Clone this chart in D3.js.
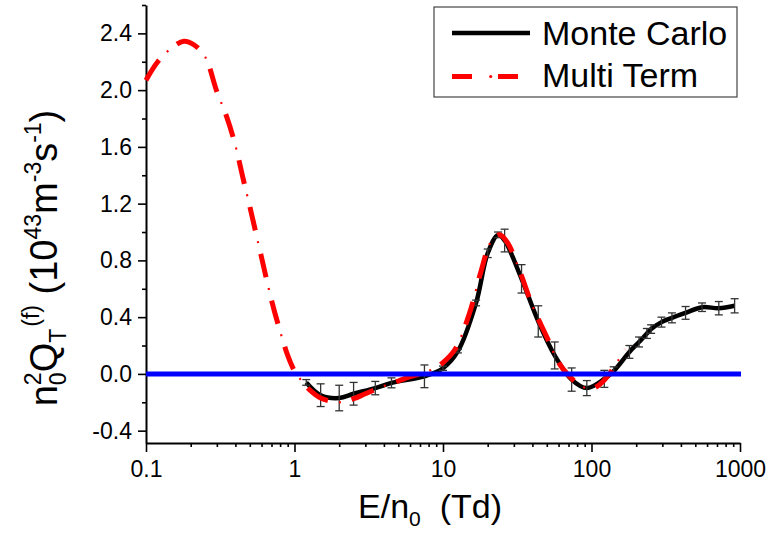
<!DOCTYPE html>
<html>
<head>
<meta charset="utf-8">
<script src="https://cdn.jsdelivr.net/npm/d3@7"></script>
<style>
  body { margin: 0; background: #fff; }
  svg { display: block; }
  text { font-family: "Liberation Sans", Arial, sans-serif; fill: #000; }
</style>
</head>
<body>
<svg width="769" height="540"></svg>
<script>
// Monte Carlo points (E/n0 in Td, value, error)
const mcX = [1.2, 1.5, 2, 2.5, 3.5, 4.5, 7.5, 10, 12.6, 16.7, 20, 23.5, 26, 33.8, 43.8, 56.5, 73.5, 93, 122, 141, 180, 209, 236, 252, 296, 348, 430, 555, 720, 920];
const mcY = [-0.06, -0.15, -0.17, -0.14, -0.10, -0.063, -0.017, 0.04, 0.16, 0.5, 0.85, 0.98, 0.94, 0.67, 0.37, 0.13, -0.04, -0.10, -0.035, 0.02, 0.155, 0.225, 0.285, 0.316, 0.365, 0.395, 0.43, 0.47, 0.463, 0.48];
const mcErr = [0.02, 0.08, 0.09, 0.08, 0.047, 0.035, 0.08, 0.015, 0.012, 0.02, 0.03, 0.02, 0.08, 0.1, 0.11, 0.095, 0.082, 0.053, 0.06, 0.03, 0.045, 0.035, 0.035, 0.03, 0.035, 0.035, 0.045, 0.03, 0.047, 0.05];

// Multi term curve
const mtX = [0.1, 0.12, 0.15, 0.18, 0.21, 0.25, 0.3, 0.35, 0.4, 0.45, 0.5, 0.6, 0.7, 0.8, 0.9, 1.0, 1.1, 1.2, 1.5, 2, 2.5, 3, 4, 5, 6, 7, 8, 9, 10, 12, 15, 18, 21, 24, 27, 33, 40, 50, 60, 70, 85, 100, 115, 130, 150, 170];
const mtY = [2.07, 2.2, 2.30, 2.345, 2.32, 2.235, 1.99, 1.81, 1.61, 1.38, 1.18, 0.82, 0.52, 0.30, 0.13, 0.02, -0.04, -0.09, -0.17, -0.20, -0.175, -0.14, -0.085, -0.05, -0.02, 0.0, 0.02, 0.045, 0.08, 0.17, 0.42, 0.72, 0.93, 0.98, 0.93, 0.72, 0.48, 0.26, 0.08, -0.01, -0.085, -0.105, -0.07, -0.01, 0.09, 0.17];

const xMajor = [0.1, 1, 10, 100, 1000];
const xTickLabels = ['0.1', '1', '10', '100', '1000'];
const yMajor = [-0.4, 0.0, 0.4, 0.8, 1.2, 1.6, 2.0, 2.4];
const yTickLabels = ['-0.4', '0.0', '0.4', '0.8', '1.2', '1.6', '2.0', '2.4'];
const seriesNames = ['Monte Carlo', 'Multi Term'];

const svg = d3.select('svg');

const x = d3.scaleLog().domain([0.1, 1000]).range([146, 740]);
const y = d3.scaleLinear().domain([-0.487, 2.6]).range([443, 5]);

// minor ticks
const xMinor = [];
[0.1, 1, 10, 100].forEach(d => { for (let k = 2; k <= 9; k++) xMinor.push(d * k); });
const yMinor = [-0.2, 0.2, 0.6, 1.0, 1.4, 1.8, 2.2, 2.6];

svg.append('g').attr('transform', `translate(0,${y.range()[0]})`)
  .call(d3.axisBottom(x).tickValues(xMajor).tickFormat((d, i) => xTickLabels[i])
    .tickSize(9).tickSizeOuter(0).tickPadding(9));
svg.append('g').attr('transform', `translate(0,${y.range()[0]})`)
  .call(d3.axisBottom(x).tickValues(xMinor).tickFormat('').tickSize(4).tickSizeOuter(0))
  .call(g => g.select('.domain').remove());

svg.append('g').attr('transform', `translate(${x.range()[0]},0)`)
  .call(d3.axisLeft(y).tickValues(yMajor).tickFormat((d, i) => yTickLabels[i])
    .tickSize(8).tickSizeOuter(0).tickPadding(6));
svg.append('g').attr('transform', `translate(${x.range()[0]},0)`)
  .call(d3.axisLeft(y).tickValues(yMinor).tickFormat('').tickSize(4).tickSizeOuter(0))
  .call(g => g.select('.domain').remove());

svg.selectAll('.domain').attr('stroke', '#000').attr('stroke-width', 2);
svg.selectAll('.tick line').attr('stroke', '#000').attr('stroke-width', 1.6);
svg.selectAll('.tick text').style('font-size', '23px').style('font-family', '"Liberation Sans", Arial, sans-serif').attr('fill', '#000');

// Monte Carlo line
const line = d3.line().curve(d3.curveCatmullRom.alpha(0.5))
  .x(d => x(d[0])).y(d => y(d[1]));
const mcData = mcX.map((d, i) => [d, mcY[i], mcErr[i]]);
const mtData = mtX.map((d, i) => [d, mtY[i]]);

svg.append('path').datum(mcData).attr('d', line)
  .attr('fill', 'none').attr('stroke', '#000').attr('stroke-width', 4.5);

// error bars
const eb = svg.append('g').attr('stroke', '#333').attr('stroke-width', 1.3);
eb.selectAll('line.v').data(mcData).enter().append('line')
  .attr('x1', d => x(d[0])).attr('x2', d => x(d[0]))
  .attr('y1', d => y(d[1] - d[2])).attr('y2', d => y(d[1] + d[2]));
eb.selectAll('line.t').data(mcData).enter().append('line')
  .attr('x1', d => x(d[0]) - 4).attr('x2', d => x(d[0]) + 4)
  .attr('y1', d => y(d[1] + d[2])).attr('y2', d => y(d[1] + d[2]));
eb.selectAll('line.b').data(mcData).enter().append('line')
  .attr('x1', d => x(d[0]) - 4).attr('x2', d => x(d[0]) + 4)
  .attr('y1', d => y(d[1] - d[2])).attr('y2', d => y(d[1] - d[2]));

// Multi term dash-dot line (dashes + dots)
svg.append('path').datum(mtData).attr('d', line)
  .attr('fill', 'none').attr('stroke', '#ff0000').attr('stroke-width', 5)
  .attr('stroke-dasharray', '24,24');
svg.append('path').datum(mtData).attr('d', line)
  .attr('fill', 'none').attr('stroke', '#ff0000').attr('stroke-width', 2.2)
  .attr('stroke-dasharray', '0,35,2,11');

// zero line
svg.append('line')
  .attr('x1', x(0.1)).attr('x2', x(1000) + 1)
  .attr('y1', y(0)).attr('y2', y(0))
  .attr('stroke', '#0000ff').attr('stroke-width', 5);

// legend
const lg = svg.append('g');
lg.append('rect').attr('x', 434).attr('y', 7).attr('width', 303).attr('height', 90)
  .attr('fill', '#fff').attr('stroke', '#444').attr('stroke-width', 1.2);
lg.append('line').attr('x1', 452).attr('x2', 530).attr('y1', 33).attr('y2', 33)
  .attr('stroke', '#000').attr('stroke-width', 4.5);
lg.append('line').attr('x1', 452).attr('x2', 472).attr('y1', 76.5).attr('y2', 76.5)
  .attr('stroke', '#ff0000').attr('stroke-width', 5);
lg.append('line').attr('x1', 498).attr('x2', 518).attr('y1', 76.5).attr('y2', 76.5)
  .attr('stroke', '#ff0000').attr('stroke-width', 5);
lg.append('circle').attr('cx', 490.7).attr('cy', 76.5).attr('r', 1.6).attr('fill', '#ff0000');
lg.selectAll('text').data(seriesNames).enter().append('text')
  .attr('x', 542).attr('y', (d, i) => 45 + i * 42)
  .style('font-size', '34px').text(d => d);

// axis titles
const xt = svg.append('text').attr('x', 430).attr('y', 518)
  .attr('text-anchor', 'middle').style('font-size', '34px');
xt.append('tspan').text('E/n');
xt.append('tspan').attr('dy', 8).style('font-size', '21px').text('0');
xt.append('tspan').attr('dy', -8).text('\u00a0\u00a0(Td)');

const yt = svg.append('text').attr('transform', 'translate(57,258) rotate(-90)')
  .attr('text-anchor', 'middle').style('font-size', '38px');
const parts = [
  ['n', 0, 0, 38], ['0', 9, 0, 23], ['2', -25, -12.8, 23],
  ['Q', 16, 0, 38], ['T', 9, 0, 23], ['(f)', -27, 2, 23],
  ['\u00a0(10', 18, 0, 38], ['43', -16, 0, 23], ['m', 16, 0, 38],
  ['-3', -16, 0, 23], ['s', 16, 0, 38], ['-1', -16, 0, 23], [')', 16, 0, 38]
];
parts.forEach(p => {
  yt.append('tspan').attr('dy', p[1]).attr('dx', p[2]).style('font-size', p[3] + 'px').text(p[0]);
});
</script>
</body>
</html>
